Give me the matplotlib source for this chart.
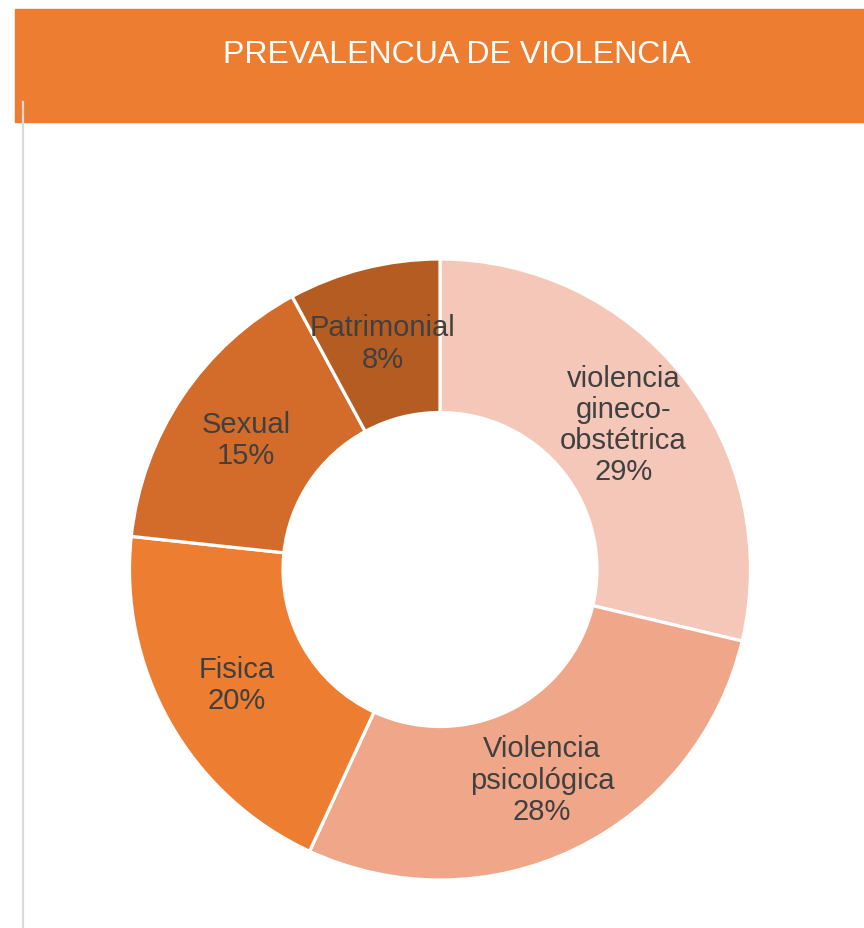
import numpy as np
import matplotlib
matplotlib.use("Agg")
import matplotlib.pyplot as plt
from matplotlib.patches import Rectangle

plt.rcParams["font.family"] = ["Liberation Sans", "DejaVu Sans"]

title = "PREVALENCUA DE VIOLENCIA"
labels = ["violencia\ngineco-\nobstétrica", "Violencia\npsicológica", "Fisica", "Sexual", "Patrimonial"]
values = [28.7, 28.2, 19.8, 15.4, 7.9]
colors = ["#F4C7B8", "#F0A689", "#ED7D31", "#D36B2A", "#B45C22"]

W, H = 864, 929
fig = plt.figure(figsize=(W / 100, H / 100), dpi=100)

# orange header band + thin grey frame line on the left
fig.patches.append(Rectangle((15 / W, 1 - 123 / H), 1 - 15 / W, 113 / H,
                             transform=fig.transFigure, color="#ED7D31", zorder=0))
fig.lines.append(plt.Line2D([23 / W, 23 / W], [0, 1 - 103 / H],
                            transform=fig.transFigure, color="#D9D9D9", lw=1.6))
fig.text(457 / W, 1 - 55 / H, title, color="white", fontsize=23,
         ha="center", va="center")

# donut
cx, cy, r = 440, 570.5, 310.5
ax = fig.add_axes([(cx - r) / W, (H - cy - r) / H, 2 * r / W, 2 * r / H])

inner = 157 / r
wedges, _ = ax.pie(values, colors=colors, startangle=90, counterclock=False,
                   radius=1, wedgeprops=dict(width=1 - inner, edgecolor="white", linewidth=2.3))
ax.set_xlim(-1, 1)
ax.set_ylim(-1, 1)
ax.axis("off")

mid_r = (1 + inner) / 2
for w, lab, v in zip(wedges, labels, values):
    ang = np.deg2rad((w.theta1 + w.theta2) / 2)
    ax.text(mid_r * np.cos(ang), mid_r * np.sin(ang), f"{lab}\n{v:.0f}%",
            ha="center", va="center", fontsize=21, color="#404040",
            linespacing=1.15)

fig.savefig("out.png", dpi=100)
